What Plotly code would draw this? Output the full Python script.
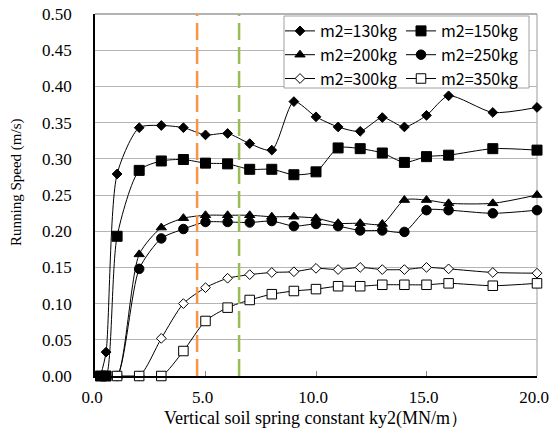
import plotly.graph_objects as go

# ---- data ----
x_130 = [0.25, 0.5, 1, 2, 3, 4, 5, 6, 7, 8, 9, 10, 11, 12, 13, 14, 15, 16, 18, 20]
y_130 = [0.0, 0.033, 0.279, 0.343, 0.346, 0.343, 0.333, 0.335, 0.321, 0.312, 0.379,
         0.358, 0.344, 0.338, 0.357, 0.344, 0.360, 0.387, 0.364, 0.371]
x_150 = [0.25, 0.5, 1, 2, 3, 4, 5, 6, 7, 8, 9, 10, 11, 12, 13, 14, 15, 16, 18, 20]
y_150 = [0.0, 0.0, 0.193, 0.284, 0.297, 0.299, 0.294, 0.293, 0.2855, 0.2855, 0.278,
         0.282, 0.315, 0.314, 0.308, 0.295, 0.303, 0.305, 0.314, 0.312]
x_200 = [0.5, 1, 2, 3, 4, 5, 6, 7, 8, 9, 10, 11, 12, 13, 14, 15, 16, 18, 20]
y_200 = [0.0, 0.0, 0.168, 0.205, 0.218, 0.222, 0.222, 0.222, 0.220, 0.220,
         0.218, 0.211, 0.211, 0.210, 0.243, 0.243, 0.2385, 0.2385, 0.250]
x_250 = [0.5, 1, 2, 3, 4, 5, 6, 7, 8, 9, 10, 11, 12, 13, 14, 15, 16, 18, 20]
y_250 = [0.0, 0.0, 0.148, 0.190, 0.203, 0.2127, 0.2127, 0.212, 0.214, 0.207,
         0.210, 0.207, 0.201, 0.201, 0.199, 0.229, 0.229, 0.2247, 0.229]
x_300 = [1, 2, 3, 4, 5, 6, 7, 8, 9, 10, 11, 12, 13, 14, 15, 16, 18, 20]
y_300 = [0.0, 0.0, 0.052, 0.100, 0.122, 0.135, 0.140, 0.143, 0.144,
         0.1487, 0.147, 0.150, 0.147, 0.147, 0.150, 0.148, 0.143, 0.142]
x_350 = [1, 2, 3, 4, 5, 6, 7, 8, 9, 10, 11, 12, 13, 14, 15, 16, 18, 20]
y_350 = [0.0, 0.0, 0.0, 0.0345, 0.076, 0.0944, 0.105, 0.113, 0.1174,
         0.120, 0.124, 0.124, 0.126, 0.126, 0.126, 0.128, 0.1247, 0.128]
series_names = ["m2=130kg", "m2=150kg", "m2=200kg", "m2=250kg", "m2=300kg", "m2=350kg"]
vlines_x = [4.62, 6.52]

y_ticks = [0.0, 0.05, 0.10, 0.15, 0.20, 0.25, 0.30, 0.35, 0.40, 0.45, 0.50]
x_ticks = [0.0, 5.0, 10.0, 15.0, 20.0]

series = [
    (x_130, y_130, "diamond", 7.5, "black", "legend"),
    (x_150, y_150, "square", 10, "black", "legend2"),
    (x_200, y_200, "triangle-up", 9, "black", "legend"),
    (x_250, y_250, "circle", 9.5, "black", "legend2"),
    (x_300, y_300, "diamond", 7.5, "white", "legend"),
    (x_350, y_350, "square", 9.5, "white", "legend2"),
]

SERIF = "Liberation Serif, Times New Roman, serif"

fig = go.Figure()

for (xs, ys, sym, size, fill, lg), name in zip(series, series_names):
    fig.add_trace(go.Scatter(
        x=xs, y=ys, name=name, mode="lines+markers",
        line=dict(color="black", width=1, shape="spline", smoothing=0.7),
        marker=dict(symbol=sym, size=size, color=fill,
                    line=dict(color="black", width=1)),
        cliponaxis=False, legend=lg,
    ))

colors = ["#F79646", "#9BBB59"]
for vx, c in zip(vlines_x, colors):
    fig.add_shape(type="line", xref="x", yref="paper", x0=vx, x1=vx, y0=0, y1=1,
                  line=dict(color=c, width=2.5, dash="17px,7px"), layer="above")

# right / top border
fig.add_shape(type="line", xref="paper", yref="paper", x0=1, x1=1, y0=0, y1=1,
              line=dict(color="#9a9a9a", width=1), layer="below")
fig.add_shape(type="line", xref="paper", yref="paper", x0=0, x1=1, y0=1, y1=1,
              line=dict(color="#9a9a9a", width=1.5), layer="below")

# legend box
fig.add_shape(type="rect", xref="paper", yref="paper",
              x0=(284 - 95) / 442, x1=(529 - 95) / 442,
              y0=(376 - 88) / 362, y1=(376 - 16) / 362,
              line=dict(color="#a0a0a0", width=1), fillcolor="white", layer="above")

# y-axis title (positioned like the reference, slightly above centre)
fig.add_annotation(text="Running Speed (m/s)", textangle=-90,
                   xref="paper", yref="paper",
                   x=(16 - 95) / 442, y=(376 - 182) / 362,
                   xanchor="center", yanchor="middle", showarrow=False,
                   font=dict(family=SERIF, size=15, color="black"))

legfont = dict(family="Noto Sans CJK JP", size=16, color="black")
fig.update_layout(
    width=550, height=429,
    margin=dict(l=95, r=13, t=14, b=53, autoexpand=False),
    paper_bgcolor="white", plot_bgcolor="white",
    font=dict(family=SERIF, size=16, color="black"),
    showlegend=True,
    legend=dict(x=(280 - 95) / 442, y=(376 - 14) / 362, xanchor="left", yanchor="top",
                bgcolor="rgba(0,0,0,0)", font=legfont, itemwidth=30, tracegroupgap=0),
    legend2=dict(x=(401 - 95) / 442, y=(376 - 14) / 362, xanchor="left", yanchor="top",
                 bgcolor="rgba(0,0,0,0)", font=legfont, itemwidth=30, tracegroupgap=0),
    xaxis=dict(range=[0, 20], tickvals=x_ticks, ticktext=[f"{v:.1f}" for v in x_ticks],
               showgrid=False, zeroline=False, showline=True, linecolor="black", linewidth=1.5,
               ticks="inside", ticklen=5, tickcolor="#888888", automargin=False,
               ticklabeloverflow="allow", ticklabelshift=-3, ticklabelstandoff=5,
               tickfont=dict(family=SERIF, size=17),
               title=dict(text="Vertical soil spring constant ky2(MN/m）",
                          font=dict(family=SERIF, size=18), standoff=5)),
    yaxis=dict(range=[0, 0.5], tickvals=y_ticks, ticktext=[f"{v:.2f}" for v in y_ticks],
               showgrid=True, gridcolor="#b5b5b5", gridwidth=1, zeroline=False,
               showline=True, linecolor="black", linewidth=1.5, ticks="",
               ticklabelstandoff=18, automargin=False,
               tickfont=dict(family=SERIF, size=17)),
)

fig.write_html("out.html", config={"displayModeBar": False},
               post_script="document.body.style.margin='0';document.body.style.overflow='hidden';")
